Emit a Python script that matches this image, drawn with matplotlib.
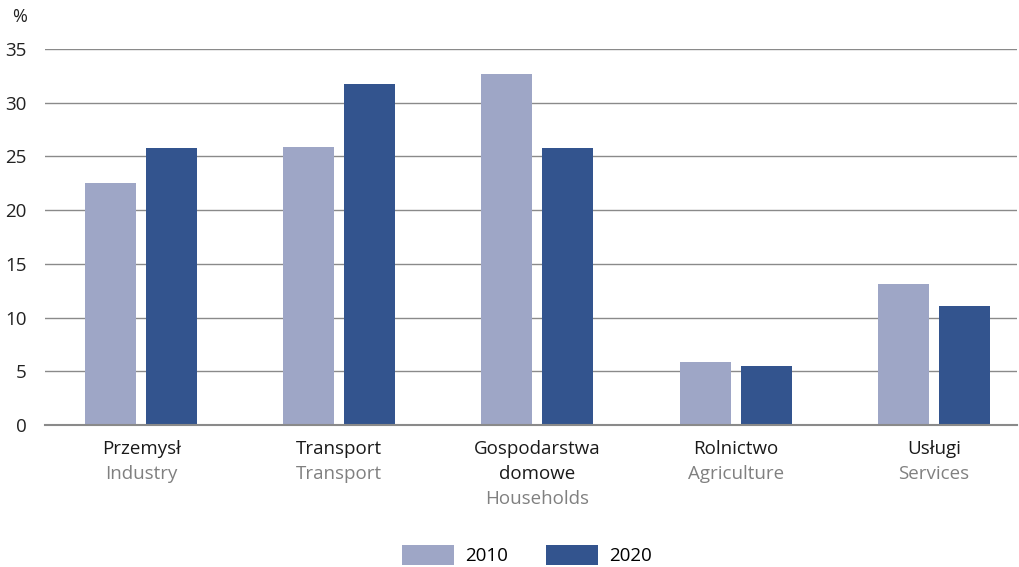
import matplotlib
matplotlib.use("Agg")
import matplotlib.pyplot as plt
from matplotlib.patches import Patch
import numpy as np

categories_pl = ["Przemysł", "Transport", "Gospodarstwa\ndomowe", "Rolnictwo", "Usługi"]
categories_en = ["Industry", "Transport", "Households", "Agriculture", "Services"]
values_2010 = [22.5, 25.9, 32.7, 5.9, 13.1]
values_2020 = [25.8, 31.7, 25.8, 5.5, 11.1]
yticks = [0, 5, 10, 15, 20, 25, 30, 35]
series_labels = ["2010", "2020"]

c2010 = "#9ea6c6"
c2020 = "#33548e"
grid_c = "#8a8a8a"

plt.rcParams['font.family'] = ['Open Sans', 'DejaVu Sans']

fig = plt.figure(figsize=(10.19, 5.67), dpi=100)
ax = fig.add_axes([45/1019, 1-425/567, (1017-45)/1019, (425-49)/567])

x = np.arange(len(categories_pl))
w = 0.257
off = 0.154
ax.bar(x - off, values_2010, width=w, color=c2010, zorder=3)
ax.bar(x + off, values_2020, width=w, color=c2020, zorder=3)

ax.set_ylim(0, 35)
ax.set_xlim(-0.485, 4.42)
ax.set_yticks(yticks)
ax.set_yticklabels([str(t) for t in yticks], fontsize=13.5, color="#222222")
ax.tick_params(axis='y', length=0, pad=13)
ax.tick_params(axis='x', length=0, labelbottom=False)
ax.yaxis.grid(True, color=grid_c, linewidth=1, zorder=0)
for s in ["top", "right", "left"]:
    ax.spines[s].set_visible(False)
ax.spines["bottom"].set_color(grid_c)
ax.spines["bottom"].set_linewidth(1.5)
ax.spines["bottom"].set_zorder(4)

step = 18.0
for i in range(len(categories_pl)):
    lines = categories_pl[i].split("\n")
    for k, line in enumerate(lines):
        ax.annotate(line, xy=(x[i], 0), xycoords='data', xytext=(0, -10.5 - step * k),
                    textcoords='offset points', ha='center', va='top',
                    fontsize=13.5, color="#1a1a1a")
    ax.annotate(categories_en[i], xy=(x[i], 0), xycoords='data',
                xytext=(0, -10.5 - step * len(lines)), textcoords='offset points',
                ha='center', va='top', fontsize=13.5, color="#808080")

fig.text(12/1019, 1-17/567, "%", fontsize=13, color="#222222", va='center', ha='left')

handles = [Patch(facecolor=c2010, edgecolor='none'), Patch(facecolor=c2020, edgecolor='none')]
leg = fig.legend(handles, series_labels, loc='center', bbox_to_anchor=(0.517, 1-555/567),
                 ncol=2, frameon=False, fontsize=13.5, handlelength=2.8, handleheight=1.3,
                 columnspacing=2.0, handletextpad=0.6)

fig.savefig("out.png", dpi=100)
